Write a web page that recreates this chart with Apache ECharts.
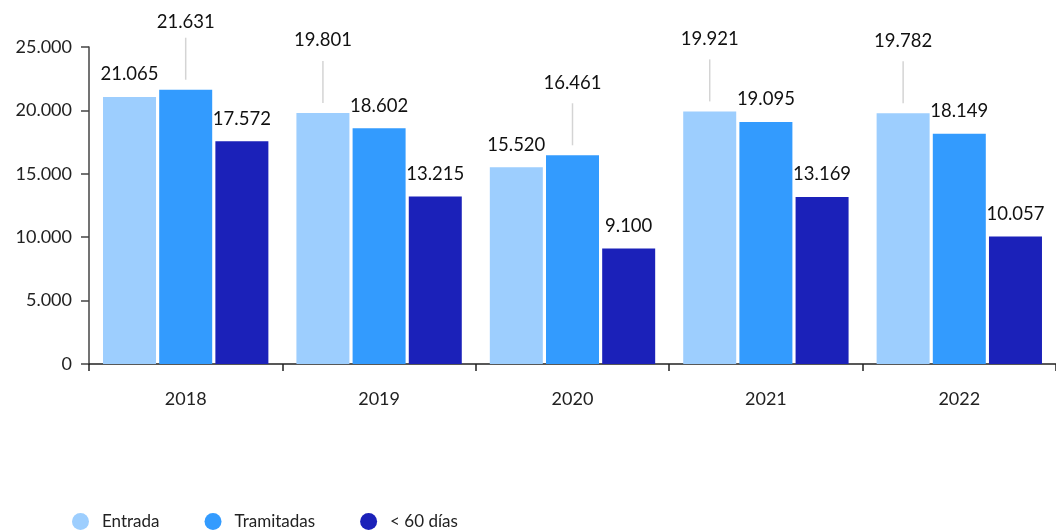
<!DOCTYPE html>
<html>
<head>
<meta charset="utf-8">
<script src="https://cdn.jsdelivr.net/npm/echarts@6/dist/echarts.min.js"></script>
<style>
  html, body { margin: 0; padding: 0; background: #fff; }
  #chart { width: 1056px; height: 530px; }
</style>
</head>
<body>
<div id="chart"></div>
<script>
// chart values
const years = ["2018", "2019", "2020", "2021", "2022"];
const entrada = [21065, 19801, 15520, 19921, 19782];
const tramitadas = [21631, 18602, 16461, 19095, 18149];
const menos60 = [17572, 13215, 9100, 13169, 10057];
const yTicks = [0, 5000, 10000, 15000, 20000, 25000];
const seriesNames = ["Entrada", "Tramitadas", "< 60 días"];

const fontFamily = "Lato, 'Open Sans', sans-serif";
const BAR_W = 53;
const BAR_GAP = 0.06;

function fmt(v) {
  return String(v).replace(/\B(?=(\d{3})+(?!\d))/g, ".");
}

// the taller of Entrada / Tramitadas in each year gets its label lifted with a guide line
function highIdx(i) {
  return entrada[i] >= tramitadas[i] ? 0 : 1;
}

function barSeries(name, values, color, idx) {
  return {
    name: name,
    type: "bar",
    data: values,
    barWidth: BAR_W,
    barGap: BAR_GAP * 100 + "%",
    itemStyle: { color: color },
    label: {
      show: true,
      position: "top",
      distance: 13,
      color: "#111",
      fontFamily: fontFamily,
      fontSize: 18.5,
      formatter: p => fmt(p.value)
    },
    labelLayout: function (p) {
      if (idx < 2 && highIdx(p.dataIndex) === idx) {
        return { dy: Math.max(-50, 13 - p.labelRect.y) };
      }
      return {};
    }
  };
}

// guide lines for lifted labels
const guideData = years.map((y, i) => {
  const h = highIdx(i);
  return [i, h === 0 ? entrada[i] : tramitadas[i], h];
});

const chart = echarts.init(document.getElementById("chart"));
chart.setOption({
  animation: false,
  grid: { left: 89, right: -10, top: 47, bottom: 166 },
  legend: {
    data: seriesNames,
    left: 67,
    top: 508,
    icon: "circle",
    itemWidth: 17,
    itemHeight: 17,
    itemGap: 45,
    textStyle: { fontFamily: fontFamily, fontSize: 17, color: "#222", padding: [0, 0, 0, 8] }
  },
  xAxis: {
    type: "category",
    data: years,
    axisLine: { lineStyle: { color: "#222", width: 1.5 } },
    axisTick: { show: true, length: 7, lineStyle: { color: "#222", width: 1.5 } },
    axisLabel: { margin: 26, fontFamily: fontFamily, fontSize: 18, color: "#222" }
  },
  yAxis: {
    type: "value",
    min: yTicks[0],
    max: yTicks[yTicks.length - 1],
    interval: yTicks[1] - yTicks[0],
    axisLine: { show: true, lineStyle: { color: "#444", width: 1.5 } },
    axisTick: { show: true, length: 8, lineStyle: { color: "#444", width: 1.5 } },
    splitLine: { show: false },
    axisLabel: {
      margin: 17,
      fontFamily: fontFamily,
      fontSize: 18,
      color: "#222",
      formatter: v => fmt(v)
    }
  },
  series: [
    barSeries(seriesNames[0], entrada, "#9dcefe", 0),
    barSeries(seriesNames[1], tramitadas, "#339bfe", 1),
    barSeries(seriesNames[2], menos60, "#1b21b9", 2),
    {
      type: "custom",
      data: guideData,
      silent: true,
      renderItem: function (params, api) {
        const c = api.coord([api.value(0), api.value(1)]);
        const x = c[0] + (api.value(2) - 1) * BAR_W * (1 + BAR_GAP);
        return {
          type: "line",
          shape: { x1: x, y1: c[1] - 10, x2: x, y2: c[1] - 52 },
          style: { stroke: "#d4d4d4", lineWidth: 1.5 }
        };
      }
    }
  ]
});
</script>
</body>
</html>
